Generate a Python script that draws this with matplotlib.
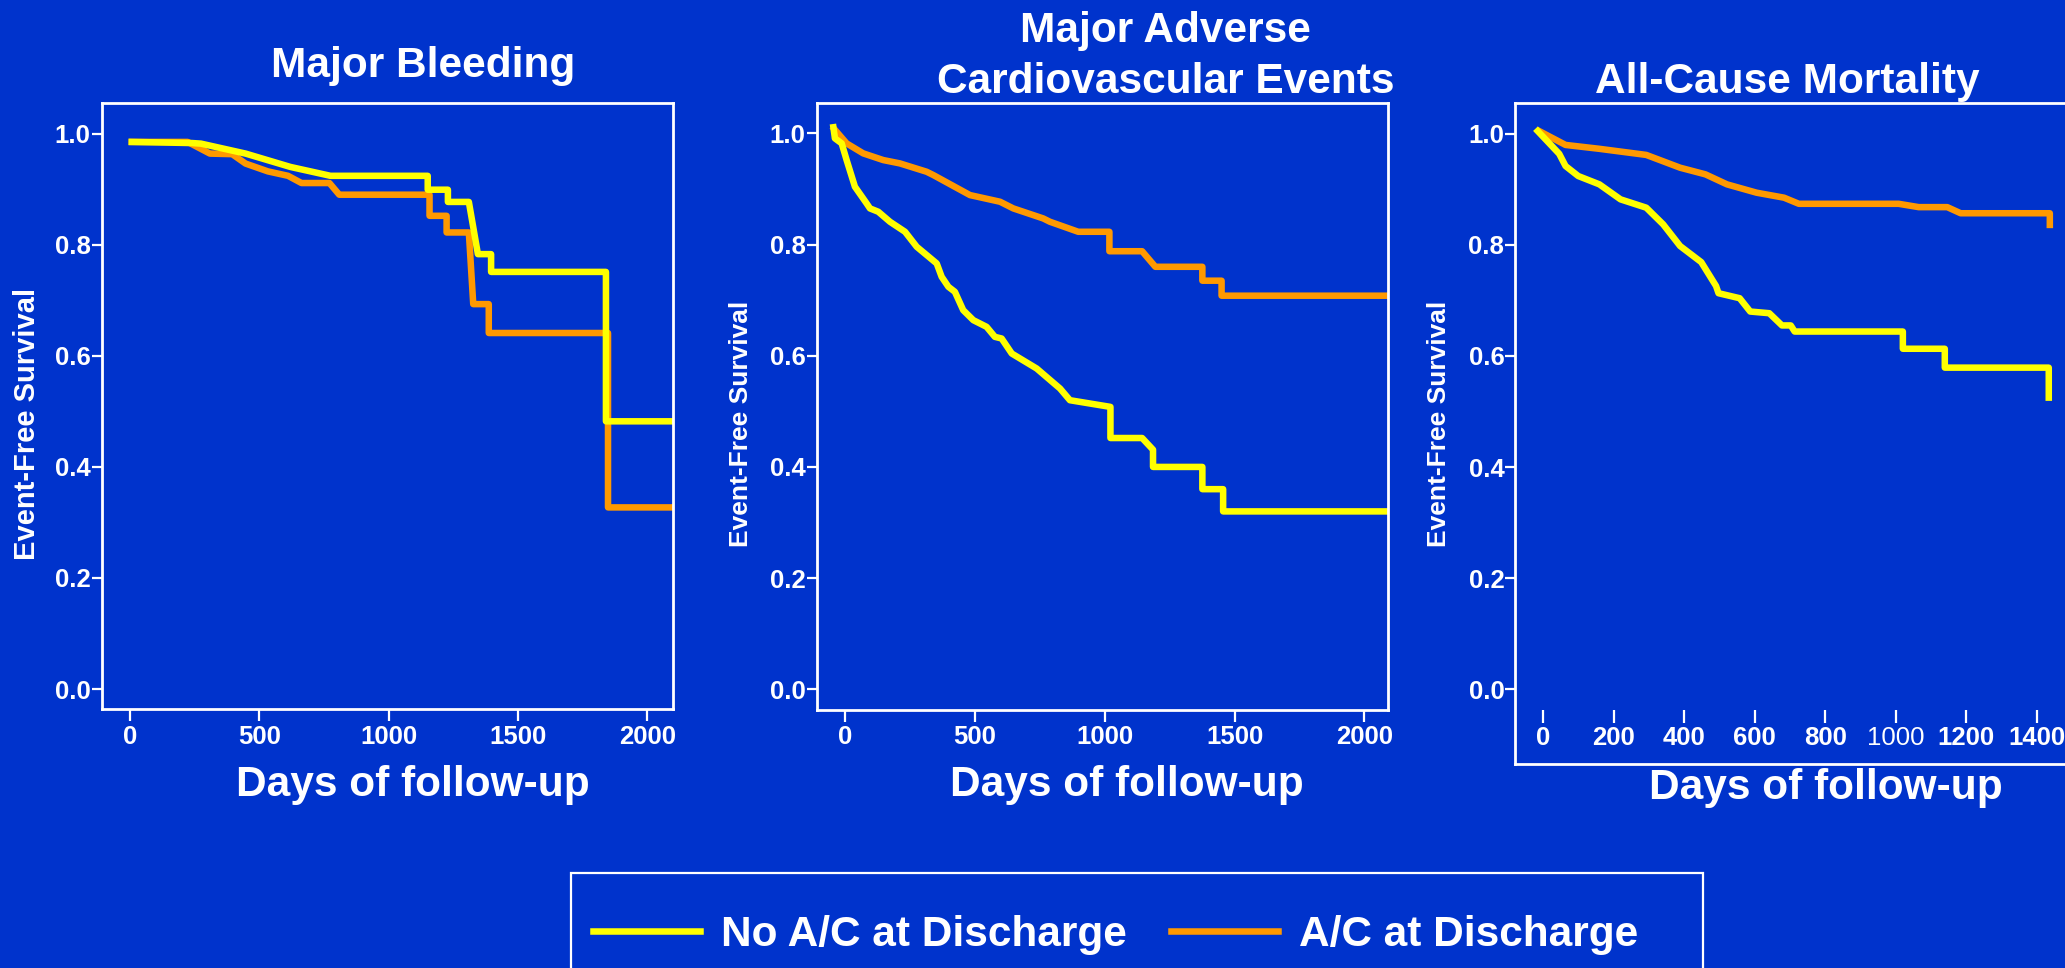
import matplotlib.pyplot as plt
from matplotlib.patches import Rectangle
from matplotlib.ticker import FormatStrFormatter

W, H = 2065, 968
BG = '#0033CC'
YELLOW = '#FFFF00'
ORANGE = '#FF9900'

plt.rcParams['font.family'] = ['Liberation Sans', 'DejaVu Sans']
plt.rcParams['font.weight'] = 'bold'

# Kaplan-Meier curves, (days, event-free survival)
# Major Bleeding
bleed_days_no_ac = [7, 240, 274, 447, 620, 775, 1151, 1151, 1229, 1229, 1310, 1345,
                    1396, 1396, 1840, 1840, 2100]
bleed_surv_no_ac = [0.985, 0.983, 0.982, 0.964, 0.940, 0.924, 0.924, 0.899, 0.899, 0.877,
                    0.877, 0.783, 0.783, 0.751, 0.751, 0.482, 0.482]
bleed_days_ac = [7, 223, 309, 395, 447, 533, 611, 663, 771, 809, 1158, 1158, 1224, 1224,
                 1310, 1327, 1387, 1387, 1848, 1848, 2100]
bleed_surv_ac = [0.985, 0.985, 0.964, 0.963, 0.946, 0.932, 0.924, 0.911, 0.911, 0.890,
                 0.890, 0.852, 0.852, 0.822, 0.822, 0.693, 0.693, 0.641, 0.641, 0.327, 0.327]

# Major Adverse Cardiovascular Events
mace_days_no_ac = [-45, -39, -13, 6, 38, 83, 96, 128, 173, 231, 276, 353, 372, 398, 423,
                   455, 494, 545, 577, 603, 642, 738, 828, 866, 1022, 1022, 1144, 1186,
                   1186, 1376, 1376, 1456, 1456, 2089]
mace_surv_no_ac = [1.011, 0.991, 0.982, 0.952, 0.904, 0.874, 0.865, 0.859, 0.841, 0.823,
                   0.796, 0.766, 0.742, 0.724, 0.715, 0.682, 0.664, 0.652, 0.634, 0.631,
                   0.604, 0.577, 0.541, 0.520, 0.508, 0.452, 0.452, 0.431, 0.400, 0.400,
                   0.360, 0.360, 0.320, 0.320]
mace_days_ac = [-42, 6, 70, 147, 211, 314, 340, 481, 597, 648, 763, 789, 898, 1018, 1018,
                1144, 1195, 1376, 1376, 1450, 1450, 2089]
mace_surv_ac = [1.008, 0.982, 0.964, 0.952, 0.946, 0.931, 0.925, 0.889, 0.877, 0.865,
                0.847, 0.841, 0.823, 0.823, 0.788, 0.788, 0.760, 0.760, 0.735, 0.735,
                0.708, 0.708]

# All-Cause Mortality
mort_days_no_ac = [-16, 45, 63, 99, 159, 219, 292, 340, 388, 448, 490, 497, 557, 587, 641,
                   677, 702, 713, 1020, 1020, 1139, 1139, 1434, 1434]
mort_surv_no_ac = [1.005, 0.964, 0.942, 0.924, 0.909, 0.882, 0.867, 0.837, 0.798, 0.769,
                   0.726, 0.713, 0.704, 0.680, 0.677, 0.655, 0.655, 0.644, 0.644, 0.613,
                   0.613, 0.579, 0.579, 0.525]
mort_days_ac = [-12, 63, 159, 292, 388, 460, 521, 605, 683, 725, 1008, 1065, 1146, 1184,
                1437, 1437]
mort_surv_ac = [1.005, 0.980, 0.973, 0.962, 0.939, 0.927, 0.909, 0.894, 0.885, 0.874,
                0.874, 0.868, 0.868, 0.857, 0.857, 0.836]

y_ticks = [0.0, 0.2, 0.4, 0.6, 0.8, 1.0]
legend_labels = ['No A/C at Discharge', 'A/C at Discharge']


def px(x, y):
    # pixel position (top-left origin) -> figure fraction
    return x / W, 1 - y / H


def make_axes(left, top, right, bottom, xlim, ylim):
    ax = fig.add_axes([left / W, 1 - bottom / H, (right - left) / W, (bottom - top) / H])
    ax.set_facecolor(BG)
    for s in ax.spines.values():
        s.set_color('white')
        s.set_linewidth(2)
    ax.set_xlim(*xlim)
    ax.set_ylim(*ylim)
    ax.set_yticks(y_ticks)
    ax.yaxis.set_major_formatter(FormatStrFormatter('%.1f'))
    ax.tick_params(colors='white', width=1.6, labelsize=18.5)
    ax.tick_params(axis='y', length=7, pad=1)
    ax.tick_params(axis='x', length=8.5, pad=2.5)
    return ax


def curves(ax, d_no, s_no, d_ac, s_ac):
    l_ac, = ax.plot(d_ac, s_ac, color=ORANGE, lw=4.7)
    l_no, = ax.plot(d_no, s_no, color=YELLOW, lw=4.7)
    return l_no, l_ac


fig = plt.figure(figsize=(W / 100, H / 100), dpi=100, facecolor=BG)

# --- Major Bleeding
ax1 = make_axes(101.8, 102.5, 673.2, 709.3, (-109, 2100), (-0.0365, 1.056))
ax1.set_xticks([0, 500, 1000, 1500, 2000])
line_no, line_ac = curves(ax1, bleed_days_no_ac, bleed_surv_no_ac, bleed_days_ac, bleed_surv_ac)

# --- MACE
ax2 = make_axes(816.5, 102.8, 1387.5, 709.7, (-110, 2089), (-0.0367, 1.055))
ax2.set_xticks([0, 500, 1000, 1500, 2000])
curves(ax2, mace_days_no_ac, mace_surv_no_ac, mace_days_ac, mace_surv_ac)

# --- All-cause mortality, box runs off the right edge
ax3 = make_axes(1515.4, 102.5, 2090, 764.4, (-79.3, 1551), (-0.1354, 1.0564))
ax3.tick_params(axis='x', bottom=False, labelbottom=False)
curves(ax3, mort_days_no_ac, mort_surv_no_ac, mort_days_ac, mort_surv_ac)
# x axis floats inside the box
sec = ax3.secondary_xaxis(0.0823)
ticks3 = list(range(0, 1401, 200))
sec.set_xticks(ticks3, labels=[str(t) for t in ticks3])
for s in sec.spines.values():
    s.set_color('none')
sec.tick_params(axis='x', colors='white', width=1.6, length=9.4, labelsize=18.5, pad=2)
for lab in sec.get_xticklabels():
    if lab.get_text() == '1000':
        lab.set_fontweight('normal')

# titles
tkw = dict(color='white', fontsize=30.5, fontweight='bold', ha='center', va='baseline')
fig.text(*px(423.3, 76.7), 'Major Bleeding', **tkw)
fig.text(*px(1165.4, 41.8), 'Major Adverse', **tkw)
fig.text(*px(1165.4, 93), 'Cardiovascular Events', **tkw)
fig.text(*px(1787, 93), 'All-Cause Mortality', **tkw)

# axis labels
fig.text(*px(413, 796), 'Days of follow-up', **tkw)
fig.text(*px(1127, 796), 'Days of follow-up', **tkw)
fig.text(*px(1826, 799), 'Days of follow-up', **tkw)

ykw = dict(color='white', fontweight='bold', rotation=90, ha='center', va='center')
fig.text(*px(27, 424), 'Event-Free Survival', fontsize=21, **ykw)
fig.text(*px(741, 424), 'Event-Free Survival', fontsize=19, **ykw)
fig.text(*px(1439, 424), 'Event-Free Survival', fontsize=19, **ykw)

# legend
fig.legend(handles=[line_no, line_ac], labels=legend_labels, loc='center left',
           bbox_to_anchor=px(593.3, 934.6), ncol=2, frameon=False,
           handlelength=2.53, handletextpad=0.48, columnspacing=1.05,
           borderpad=0, borderaxespad=0, labelcolor='white',
           prop={'size': 30.5, 'weight': 'bold'})
x0, y0 = px(571, 1010)
x1, y1 = px(1702.8, 873.3)
fig.add_artist(Rectangle((x0, y0), x1 - x0, y1 - y0, transform=fig.transFigure,
                         fill=False, edgecolor='white', lw=1.6))

fig.savefig('out.png', dpi=100, facecolor=BG)
